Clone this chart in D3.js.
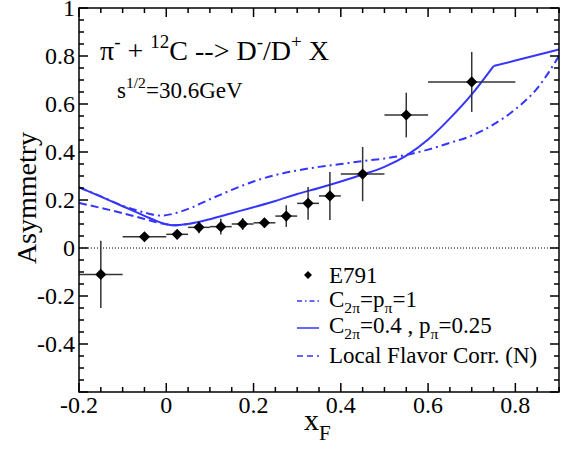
<!DOCTYPE html>
<html>
<head>
<meta charset="utf-8">
<script src="https://cdn.jsdelivr.net/npm/d3@7"></script>
<style>
  html, body { margin: 0; padding: 0; background: #fff; }
  svg { display: block; }
  svg text { font-family: "Liberation Serif", "DejaVu Serif", "Times New Roman", serif; }
</style>
</head>
<body>
<svg id="chart" width="570" height="449"></svg>
<script>
// ---- data ----
// E791 points
const e791X    = [-0.15, -0.05, 0.025, 0.075, 0.125, 0.175, 0.225, 0.275, 0.325, 0.375, 0.45, 0.55, 0.70];
const e791Y    = [-0.11, 0.047, 0.057, 0.086, 0.089, 0.100, 0.105, 0.133, 0.186, 0.217, 0.308, 0.554, 0.692];
const e791YErr = [0.14, 0.01, 0.012, 0.025, 0.033, 0.025, 0.02, 0.045, 0.068, 0.10, 0.113, 0.093, 0.125];
const e791XLo  = [-0.2, -0.1, 0.0, 0.05, 0.1, 0.15, 0.2, 0.25, 0.3, 0.35, 0.4, 0.5, 0.6];
const e791XHi  = [-0.1, 0.0, 0.05, 0.1, 0.15, 0.2, 0.25, 0.3, 0.35, 0.4, 0.5, 0.6, 0.8];

// C2pi = p_pi = 1 (dash-dot)
const dashDotX = [-0.2, -0.15, -0.1, -0.07, -0.04, -0.015, 0.0, 0.03, 0.06, 0.1, 0.15, 0.2, 0.25, 0.3, 0.35, 0.4, 0.45, 0.5, 0.55, 0.6, 0.65, 0.7, 0.75, 0.8, 0.85, 0.9];
const dashDotY = [0.253, 0.215, 0.176, 0.158, 0.143, 0.135, 0.137, 0.150, 0.170, 0.203, 0.242, 0.277, 0.304, 0.323, 0.338, 0.350, 0.362, 0.373, 0.388, 0.410, 0.438, 0.468, 0.515, 0.578, 0.665, 0.80];

// C2pi = 0.4, p_pi = 0.25 (solid), kink at 0.75
const solidX = [-0.2, -0.15, -0.1, -0.05, -0.02, 0.0, 0.015, 0.03, 0.05, 0.1, 0.15, 0.2, 0.25, 0.3, 0.35, 0.4, 0.45, 0.5, 0.55, 0.6, 0.65, 0.7, 0.75, 0.8, 0.85, 0.9];
const solidY = [0.253, 0.214, 0.174, 0.134, 0.111, 0.099, 0.095, 0.096, 0.100, 0.120, 0.145, 0.170, 0.196, 0.225, 0.250, 0.277, 0.306, 0.338, 0.385, 0.452, 0.540, 0.640, 0.758, 0.781, 0.804, 0.827];
const solidKink = 0.75;

// Local flavor correlation (dashed)
const dashedX = [-0.2, -0.15, -0.1, -0.05, -0.02, 0.0, 0.015, 0.03, 0.05];
const dashedY = [0.188, 0.167, 0.145, 0.121, 0.106, 0.099, 0.095, 0.096, 0.100];

const xTicks = [-0.2, 0, 0.2, 0.4, 0.6, 0.8];
const yTicks = [-0.4, -0.2, 0, 0.2, 0.4, 0.6, 0.8, 1];

// ---- layout ----
const svg = d3.select('#chart');
const L = 79, R = 559, T = 8, B = 392;
const blue = '#3535ff';
const serif = '"Liberation Serif", "DejaVu Serif", "Times New Roman", serif';

const x = d3.scaleLinear().domain([-0.2, 0.9]).range([L, R]);
const y = d3.scaleLinear().domain([-0.6, 1]).range([B, T]);

// helper for text with super/subscripts
function richText(g, px, py, parts, size, anchor) {
  const t = g.append('text')
    .attr('x', px).attr('y', py)
    .attr('font-family', serif)
    .attr('font-size', size)
    .attr('text-anchor', anchor || 'start')
    .attr('fill', '#000');
  let shift = 0;
  parts.forEach(([s, kind]) => {
    let want = 0, fs = size;
    if (kind === 'sup') { want = -size * 0.42; fs = size * 0.68; }
    if (kind === 'sub') { want = size * 0.28; fs = size * 0.68; }
    t.append('tspan')
      .attr('dy', want - shift)
      .attr('font-size', fs)
      .text(s);
    shift = want;
  });
  return t;
}

// zero line
svg.append('line')
  .attr('x1', L).attr('x2', R)
  .attr('y1', y(0)).attr('y2', y(0))
  .attr('stroke', '#000').attr('stroke-width', 1)
  .attr('stroke-dasharray', '1,2');

// curves
svg.append('clipPath').attr('id', 'clip')
  .append('rect').attr('x', L).attr('y', T).attr('width', R - L).attr('height', B - T);
const curves = svg.append('g').attr('clip-path', 'url(#clip)');

const line = d3.line().x(d => x(d[0])).y(d => y(d[1])).curve(d3.curveMonotoneX);

curves.append('path')
  .attr('d', line(d3.zip(dashedX, dashedY)))
  .attr('fill', 'none').attr('stroke', blue).attr('stroke-width', 2)
  .attr('stroke-dasharray', '8,4');

curves.append('path')
  .attr('d', line(d3.zip(dashDotX, dashDotY)))
  .attr('fill', 'none').attr('stroke', blue).attr('stroke-width', 2)
  .attr('stroke-dasharray', '8,4,2,4');

const solidPts = d3.zip(solidX, solidY);
const k = solidX.indexOf(solidKink);
[solidPts.slice(0, k + 1), solidPts.slice(k)].forEach(seg => {
  curves.append('path')
    .attr('d', line(seg))
    .attr('fill', 'none').attr('stroke', blue).attr('stroke-width', 2)
    .attr('stroke-linejoin', 'miter');
});

// E791 error bars and markers
const pts = e791X.map((v, i) => ({ x: v, y: e791Y[i], e: e791YErr[i], lo: e791XLo[i], hi: e791XHi[i] }));
const bars = curves.append('g').attr('stroke', '#333').attr('stroke-width', 1.5);
bars.selectAll('line.h').data(pts).enter().append('line')
  .attr('x1', d => x(d.lo)).attr('x2', d => x(d.hi))
  .attr('y1', d => y(d.y)).attr('y2', d => y(d.y));
bars.selectAll('line.v').data(pts).enter().append('line')
  .attr('x1', d => x(d.x)).attr('x2', d => x(d.x))
  .attr('y1', d => y(d.y - d.e)).attr('y2', d => y(d.y + d.e));

const diamond = d3.symbol(d3.symbolSquare, 62);
curves.selectAll('path.pt').data(pts).enter().append('path')
  .attr('d', diamond())
  .attr('transform', d => `translate(${x(d.x)},${y(d.y)}) rotate(45)`)
  .attr('fill', '#000');

// frame and ticks
const axes = svg.append('g').attr('stroke', '#000').attr('stroke-width', 1.5);
axes.append('rect')
  .attr('x', L).attr('y', T).attr('width', R - L).attr('height', B - T)
  .attr('fill', 'none');

const xMinor = d3.range(-0.2, 0.9001, 0.05).map(v => +v.toFixed(2));
const yMinor = d3.range(-0.6, 1.0001, 0.05).map(v => +v.toFixed(2));
const isMajor = v => Math.abs(Math.round(v * 5) - v * 5) < 1e-6;

xMinor.forEach(v => {
  const len = isMajor(v) ? 9 : 5;
  axes.append('line').attr('x1', x(v)).attr('x2', x(v)).attr('y1', B).attr('y2', B - len);
  axes.append('line').attr('x1', x(v)).attr('x2', x(v)).attr('y1', T).attr('y2', T + len);
});
yMinor.forEach(v => {
  const len = isMajor(v) ? 9 : 5;
  axes.append('line').attr('x1', L).attr('x2', L + len).attr('y1', y(v)).attr('y2', y(v));
  axes.append('line').attr('x1', R).attr('x2', R - len).attr('y1', y(v)).attr('y2', y(v));
});

// tick labels
const fmt = v => (v === 0 ? '0' : (v === 1 ? '1' : d3.format('.1f')(v).replace('\u2212', '-')));
svg.append('g').selectAll('text').data(xTicks).enter().append('text')
  .attr('x', d => x(d)).attr('y', 413)
  .attr('font-family', serif)
  .attr('text-anchor', 'middle').attr('font-size', 24)
  .text(fmt);
svg.append('g').selectAll('text').data(yTicks).enter().append('text')
  .attr('x', 75).attr('y', d => y(d) + 8)
  .attr('font-family', serif)
  .attr('text-anchor', 'end').attr('font-size', 24)
  .text(fmt);

// axis titles
svg.append('text')
  .attr('transform', 'translate(36,198) rotate(-90)')
  .attr('font-family', serif)
  .attr('text-anchor', 'middle').attr('font-size', 28)
  .text('Asymmetry');
const xt = svg.append('text').attr('x', 304).attr('y', 430)
  .attr('font-family', serif).attr('font-size', 30);
xt.append('tspan').text('x');
xt.append('tspan').attr('dy', 10).attr('font-size', 21).text('F');

// labels in the plot
richText(svg, 100, 60, [['\u03c0', 'n'], ['-', 'sup'], [' + ', 'n'], ['12', 'sup'], ['C --> D', 'n'], ['-', 'sup'], ['/D', 'n'], ['+', 'sup'], [' X', 'n']], 28);
richText(svg, 117, 98, [['s', 'n'], ['1/2', 'sup'], ['=30.6GeV', 'n']], 23);

// legend
const lg = svg.append('g');
const lx0 = 297, lx1 = 319, tx = 329;
const ly = [275, 301, 328, 356];
lg.append('path').attr('d', d3.symbol(d3.symbolSquare, 32)())
  .attr('transform', `translate(${(lx0 + lx1) / 2},${ly[0]}) rotate(45)`).attr('fill', '#000');
lg.append('line').attr('x1', lx0).attr('x2', lx1).attr('y1', ly[1]).attr('y2', ly[1])
  .attr('stroke', blue).attr('stroke-width', 1.5).attr('stroke-dasharray', '5,3,1.5,3');
lg.append('line').attr('x1', lx0).attr('x2', lx1).attr('y1', ly[2]).attr('y2', ly[2])
  .attr('stroke', blue).attr('stroke-width', 1.5);
lg.append('line').attr('x1', lx0).attr('x2', lx1).attr('y1', ly[3]).attr('y2', ly[3])
  .attr('stroke', blue).attr('stroke-width', 1.5).attr('stroke-dasharray', '6,4');

richText(lg, tx, ly[0] + 8, [['E791', 'n']], 23);
richText(lg, tx, ly[1] + 6, [['C', 'n'], ['2\u03c0', 'sub'], ['=p', 'n'], ['\u03c0', 'sub'], ['=1', 'n']], 23);
richText(lg, tx, ly[2] + 5, [['C', 'n'], ['2\u03c0', 'sub'], ['=0.4 , p', 'n'], ['\u03c0', 'sub'], ['=0.25', 'n']], 23);
richText(lg, tx, ly[3] + 7, [['Local Flavor Corr. (N)', 'n']], 23);
</script>
</body>
</html>
